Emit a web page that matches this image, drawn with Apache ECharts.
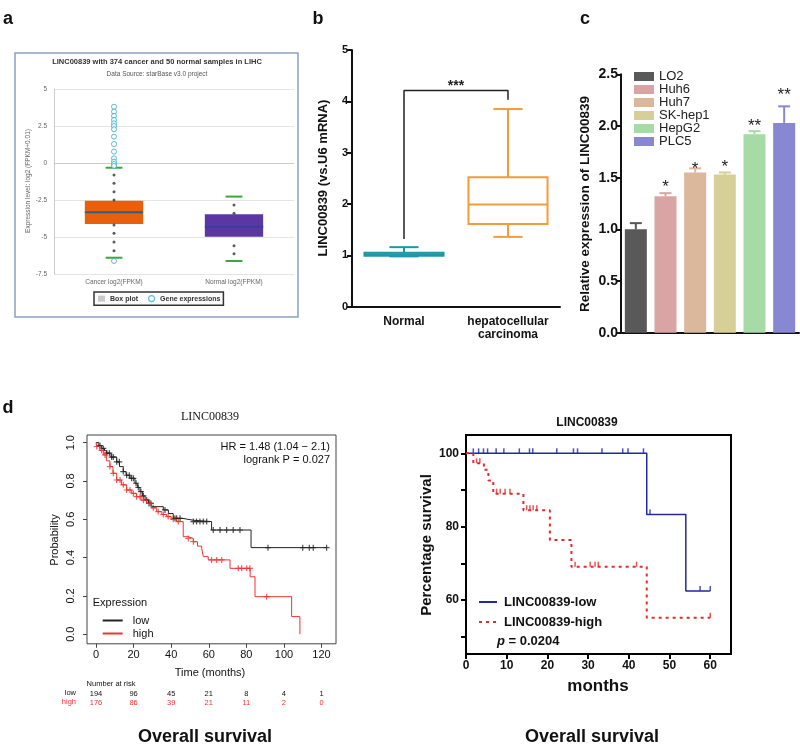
<!DOCTYPE html>
<html><head><meta charset="utf-8">
<script src="https://cdn.jsdelivr.net/npm/echarts@6/dist/echarts.min.js"></script>
<style>html,body{margin:0;padding:0;background:#fff}#c{width:800px;height:745px}</style>
</head><body><div id="c"></div>
<script>
// ---------- Panel a : starBase box plot ----------
const aCats = ['Cancer log2(FPKM)', 'Normal log2(FPKM)'];
const aLowWhisker = [-6.40, -6.62];
const aQ1 = [-4.12, -4.98];
const aMedian = [-3.33, -4.30];
const aQ3 = [-2.55, -3.47];
const aHighWhisker = [-0.32, -2.27];
const aDotsCancer = [-0.81, -1.37, -1.94, -2.50, -4.19, -4.75, -5.34, -5.93];
const aDotsNormal = [-2.84, -3.40, -5.59, -6.13];
const aExprCancer = [3.80, 3.47, 3.18, 2.91, 2.68, 2.50, 2.28, 1.78, 1.28, 0.77, 0.32, 0.09, -0.07, -0.20, -6.62];

// ---------- Panel b : qPCR box plot ----------
const bCats = ['Normal', 'hepatocellular\ncarcinoma'];
const bLow = [0.98, 1.36];
const bQ1 = [0.99, 1.61];
const bMedian = [1.02, 1.99];
const bQ3 = [1.05, 2.52];
const bHigh = [1.16, 3.85];
const bBracketLeft = 1.32, bBracketTop = 4.21, bBracketRight = 4.03, bSigY = 4.38;
const bSig = '***';

// ---------- Panel c : cell lines ----------
const cLines = ['LO2', 'Huh6', 'Huh7', 'SK-hep1', 'HepG2', 'PLC5'];
const cMean = [1.00, 1.32, 1.55, 1.53, 1.92, 2.03];
const cUpper = [1.06, 1.35, 1.59, 1.55, 1.95, 2.19];
const cSig = ['', '*', '*', '*', '**', '**'];
const cSigY = [0, 1.45, 1.62, 1.64, 2.04, 2.34];
const cColors = ['#595959', '#d9a4a4', '#dbb89c', '#d6cf98', '#a6dba6', '#8787d2'];

// ---------- Panel d left : KM plotter ----------
const dLowT = [0, 1.5, 3, 4.5, 5.7, 8, 11, 12.5, 14.5, 16, 18.1, 20.7, 22, 23.4, 24.8, 26.1, 28, 29.6, 35.8, 38.5, 41.1, 46, 51.8, 61.5, 82.5, 122.7];
const dLowP = [1, 0.985, 0.97, 0.958, 0.945, 0.925, 0.90, 0.875, 0.849, 0.83, 0.814, 0.788, 0.766, 0.744, 0.722, 0.701, 0.683, 0.666, 0.649, 0.63, 0.605, 0.595, 0.588, 0.544, 0.452, 0.452];
const dHighT = [0, 0.3, 2, 3.9, 5.5, 7.4, 9, 11, 13.5, 16.3, 19, 21.6, 24, 27, 29.5, 32.3, 35, 37.6, 40, 42.9, 46.4, 49, 51.8, 54, 56.2, 57.1, 59.7, 71.3, 82, 84.6, 104.1, 108.5];
const dHighP = [1, 0.98, 0.96, 0.936, 0.905, 0.875, 0.84, 0.805, 0.78, 0.753, 0.735, 0.718, 0.70, 0.684, 0.66, 0.64, 0.625, 0.614, 0.60, 0.588, 0.509, 0.50, 0.483, 0.46, 0.449, 0.405, 0.388, 0.344, 0.30, 0.196, 0.092, 0.0];
const dLowCensor = [2.1, 3.9, 5.7, 7.1, 8.3, 9.2, 11, 12.4, 14.5, 16.3, 17.7, 18.9, 19.9, 21.3, 22.5, 23.9, 25.2, 26.9, 28.2, 29.2, 36.7, 42, 42.9, 44.7, 51.8, 53.5, 55.3, 57.1, 58.9, 62.4, 66, 69.5, 73, 76.6, 91.5, 110, 113.5, 115.6, 122.7];
const dHighCensor = [0.4, 3.0, 4.8, 7.4, 9.2, 11, 12.8, 14.5, 16.3, 18.1, 19.9, 21.6, 23.4, 25.2, 26.9, 28.7, 30.5, 33.1, 35.8, 38.4, 41.1, 43.8, 49.1, 51.8, 61.5, 64.2, 66.9, 75.7, 77.5, 80.2, 81.9, 90.8];
const dTicksX = [0, 20, 40, 60, 80, 100, 120];
const dTicksY = [0, 0.2, 0.4, 0.6, 0.8, 1.0];
const dRiskLow = [194, 96, 45, 21, 8, 4, 1];
const dRiskHigh = [176, 86, 39, 21, 11, 2, 0];

// ---------- Panel d right : GraphPad KM ----------
const eLowT = [0, 44.4, 54.0, 60];
const eLowP = [100, 83.3, 62.5, 62.5];
const eHighT = [0, 1.8, 4.4, 5.5, 6.7, 14.1, 20.6, 25.9, 44.4, 60];
const eHighP = [100, 97.3, 95.5, 92.6, 89.0, 84.5, 76.4, 69.1, 55.2, 55.2];
const eLowCensor = [1.8, 3.1, 4.3, 5.3, 7.4, 9.3, 13.1, 15.6, 16.4, 22.3, 26.4, 27.4, 33.4, 38.5, 39.8, 43.6, 45.2, 57.5, 60];
const eHighCensor = [2.6, 3.4, 7.5, 8.4, 9.6, 10.8, 14.9, 15.7, 16.5, 17.4, 26.8, 30.5, 31.7, 32.5, 41.9, 60];
const eTicksX = [0, 10, 20, 30, 40, 50, 60];
const eTicksY = [50, 60, 70, 80, 90, 100];
const eLabelsY = [60, 80, 100];

// ---------- helpers ----------
const FONT = 'Liberation Sans';
function survAt(T, P, t) { let p = P[0]; for (let i = 0; i < T.length; i++) { if (T[i] <= t) p = P[i]; } return p; }
const plusPath = 'path://M4,0h2v4h4v2h-4v4h-2v-4h-4v-2h4z';
const aBoxFill = ['#e8600c', '#5a37a3'];
const aMedCol = ['#2f5f80', '#3c3c9c'];
const bCol = ['#2196a6', '#f59b3c'];

function renderA(params, api) {
  const i = api.value(0);
  const lo = api.coord([i, api.value(1)]), q1 = api.coord([i, api.value(2)]), md = api.coord([i, api.value(3)]);
  const q3 = api.coord([i, api.value(4)]), hi = api.coord([i, api.value(5)]);
  const band = api.size([1, 0])[0];
  const bw = band * 0.243, cw = band * 0.07, x = lo[0];
  return { type: 'group', children: [
    { type: 'rect', shape: { x: x - bw, y: q3[1], width: 2 * bw, height: q1[1] - q3[1] }, style: { fill: aBoxFill[i] } },
    { type: 'line', shape: { x1: x - bw, y1: md[1], x2: x + bw, y2: md[1] }, style: { stroke: aMedCol[i], lineWidth: 2 } },
    { type: 'line', shape: { x1: x - cw, y1: hi[1], x2: x + cw, y2: hi[1] }, style: { stroke: '#3aa83a', lineWidth: 2 } },
    { type: 'line', shape: { x1: x - cw, y1: lo[1], x2: x + cw, y2: lo[1] }, style: { stroke: '#3aa83a', lineWidth: 2 } }
  ] };
}
function renderB(params, api) {
  const i = api.value(0);
  const lo = api.coord([i, api.value(1)]), q1 = api.coord([i, api.value(2)]), md = api.coord([i, api.value(3)]);
  const q3 = api.coord([i, api.value(4)]), hi = api.coord([i, api.value(5)]);
  const band = api.size([1, 0])[0];
  const bw = band * 0.38, cw = band * 0.14, x = lo[0];
  const st = { stroke: bCol[i], lineWidth: 2, fill: null };
  return { type: 'group', children: [
    { type: 'line', shape: { x1: x, y1: hi[1], x2: x, y2: q3[1] }, style: st },
    { type: 'line', shape: { x1: x, y1: q1[1], x2: x, y2: lo[1] }, style: st },
    { type: 'line', shape: { x1: x - cw, y1: hi[1], x2: x + cw, y2: hi[1] }, style: st },
    { type: 'line', shape: { x1: x - cw, y1: lo[1], x2: x + cw, y2: lo[1] }, style: st },
    { type: 'rect', shape: { x: x - bw, y: q3[1], width: 2 * bw, height: q1[1] - q3[1] }, style: st },
    { type: 'line', shape: { x1: x - bw, y1: md[1], x2: x + bw, y2: md[1] }, style: st }
  ] };
}
function renderBSig(params, api) {
  const p0 = api.coord([0, api.value(0)]), p1 = api.coord([1, api.value(0)]);
  return { type: 'text', x: (p0[0] + p1[0]) / 2, y: p0[1] + 4, style: { text: bSig, fontSize: 14, fontWeight: 'bold', fontFamily: FONT, fill: '#222', align: 'center', verticalAlign: 'middle' } };
}
function renderErr(params, api) {
  const i = api.value(0);
  const p0 = api.coord([i, api.value(1)]), p1 = api.coord([i, api.value(2)]);
  const hw = 6, col = cColors[i];
  return { type: 'group', children: [
    { type: 'line', shape: { x1: p0[0], y1: p0[1], x2: p1[0], y2: p1[1] }, style: { stroke: col, lineWidth: 2 } },
    { type: 'line', shape: { x1: p1[0] - hw, y1: p1[1], x2: p1[0] + hw, y2: p1[1] }, style: { stroke: col, lineWidth: 2 } }
  ] };
}
function renderStar(params, api) {
  const i = api.value(0);
  const p = api.coord([i, api.value(1)]);
  return { type: 'text', x: p[0], y: p[1] + 4, style: { text: cSig[i], fontSize: 17, fontFamily: FONT, fill: '#222', align: 'center', verticalAlign: 'middle' } };
}
function renderRisk(params, api) {
  const p = api.coord([api.value(0), -0.05]);
  const s = { fontSize: 7.5, fontFamily: FONT, align: 'center', verticalAlign: 'middle' };
  return { type: 'group', children: [
    { type: 'text', x: p[0], y: p[1] + 50, style: Object.assign({ text: String(api.value(1)), fill: '#111' }, s) },
    { type: 'text', x: p[0], y: p[1] + 59, style: Object.assign({ text: String(api.value(2)), fill: '#e33' }, s) }
  ] };
}

function txt(text, x, y, o) {
  const e = { type: 'text', x: x, y: y, z: 10, style: Object.assign({ text: text, fill: '#111', fontFamily: FONT, fontSize: 12, align: 'center', verticalAlign: 'middle' }, o || {}) };
  if (o && o.rot) { e.rotation = Math.PI / 2; delete e.style.rot; }
  return e;
}

const cSeries = cLines.map((name, i) => ({
  type: 'bar', name: name, xAxisIndex: 2, yAxisIndex: 2, barWidth: 22, barGap: '-100%',
  itemStyle: { color: cColors[i] },
  data: cMean.map((v, j) => (j === i ? v : '-'))
}));

const option = {
  animation: false,
  textStyle: { fontFamily: FONT },
  grid: [
    { left: 54, top: 89, width: 240, height: 185 },
    { left: 352, top: 50, width: 208, height: 256.7 },
    { left: 621, top: 74.3, width: 178, height: 258.4 },
    { left: 87, top: 435, width: 249, height: 208.8, show: true, borderColor: '#444', borderWidth: 1 },
    { left: 466, top: 435, width: 265, height: 219, show: true, borderColor: '#000', borderWidth: 2 }
  ],
  xAxis: [
    { gridIndex: 0, type: 'category', data: aCats, axisLine: { lineStyle: { color: '#ccc' } }, axisTick: { show: false }, axisLabel: { fontSize: 6.5, color: '#666', margin: 5, interval: 0 } },
    { gridIndex: 1, type: 'category', data: bCats, axisLine: { lineStyle: { color: '#111', width: 2 } }, axisTick: { alignWithLabel: true, length: 5, lineStyle: { color: '#111', width: 2 } }, axisLabel: { interval: 0, fontSize: 12, fontWeight: 'bold', color: '#111', margin: 8, lineHeight: 13.5, verticalAlign: 'top' } },
    { gridIndex: 2, type: 'category', data: cLines, axisLine: { lineStyle: { color: '#111', width: 2 } }, axisTick: { show: false }, axisLabel: { show: false } },
    { gridIndex: 3, type: 'value', min: -4.8, max: 127.7, axisLine: { show: false, onZero: false }, splitLine: { show: false },
      axisTick: { show: true, length: 4, customValues: dTicksX, lineStyle: { color: '#444' } },
      axisLabel: { customValues: dTicksX, fontSize: 11, color: '#111', margin: 6 } },
    { gridIndex: 4, type: 'value', min: 0, max: 65.1, axisLine: { show: false, onZero: false }, splitLine: { show: false },
      axisTick: { show: true, length: 5, customValues: eTicksX, lineStyle: { color: '#000', width: 2 } },
      axisLabel: { customValues: eTicksX, fontSize: 12, fontWeight: 'bold', color: '#111', margin: 6 } }
  ],
  yAxis: [
    { gridIndex: 0, type: 'value', min: -7.5, max: 5, interval: 2.5, axisLine: { show: true, lineStyle: { color: '#ccc' } }, axisTick: { show: false }, axisLabel: { fontSize: 6.5, color: '#666', margin: 7 }, splitLine: { lineStyle: { color: '#e4e4e4' } } },
    { gridIndex: 1, type: 'value', min: 0, max: 5, interval: 1, axisLine: { show: true, lineStyle: { color: '#111', width: 2 } }, axisTick: { show: true, length: 5, lineStyle: { color: '#111', width: 2 } }, axisLabel: { fontSize: 11, fontWeight: 'bold', color: '#111', margin: 4 }, splitLine: { show: false } },
    { gridIndex: 2, type: 'value', min: 0, max: 2.5, interval: 0.5, axisLine: { show: true, lineStyle: { color: '#111', width: 2 } }, axisTick: { show: true, length: 5, lineStyle: { color: '#111', width: 2 } }, axisLabel: { fontSize: 14, fontWeight: 'bold', color: '#111', margin: 3, formatter: v => v.toFixed(1) }, splitLine: { show: false } },
    { gridIndex: 3, type: 'value', min: -0.05, max: 1.04, axisLine: { show: false, onZero: false }, splitLine: { show: false },
      axisTick: { show: true, length: 4, customValues: dTicksY, lineStyle: { color: '#444' } },
      axisLabel: { customValues: dTicksY, formatter: v => v.toFixed(1), fontSize: 11, color: '#111', rotate: 90, align: 'center', verticalAlign: 'bottom', margin: 11 } },
    { gridIndex: 4, type: 'value', min: 45.3, max: 105, axisLine: { show: false, onZero: false }, splitLine: { show: false },
      axisTick: { show: true, length: 5, customValues: eTicksY, lineStyle: { color: '#000', width: 2 } },
      axisLabel: { customValues: eLabelsY, fontSize: 12, fontWeight: 'bold', color: '#111', margin: 7 } }
  ],
  legend: [
    { left: 94, top: 292, selectedMode: false, itemWidth: 7, itemHeight: 6, itemGap: 10, padding: [3, 3, 3, 4], borderColor: '#333', borderWidth: 1.5, backgroundColor: '#fafafa',
      textStyle: { fontSize: 7, fontWeight: 'bold', color: '#333' },
      data: [{ name: 'Box plot', icon: 'rect', itemStyle: { color: '#c8c8c8' } },
             { name: 'Gene expressions', icon: 'circle', itemStyle: { color: '#fff', borderColor: '#3aa8c8', borderWidth: 1.2 } }] },
    { left: 629, top: 65, orient: 'vertical', selectedMode: false, itemWidth: 20, itemHeight: 9, itemGap: 0, icon: 'rect',
      textStyle: { fontSize: 13, color: '#222', lineHeight: 13 }, data: cLines },
    { left: 96.7, top: 610, orient: 'vertical', selectedMode: false, itemWidth: 20, itemHeight: 11, itemGap: 2, itemStyle: { opacity: 0 },
      textStyle: { fontSize: 11, color: '#111', padding: [0, 0, 0, 5] }, data: ['low', 'high'] },
    { left: 473, top: 590.5, orient: 'vertical', selectedMode: false, itemWidth: 18, itemHeight: 12, itemGap: 7, itemStyle: { opacity: 0 },
      textStyle: { fontSize: 13, fontWeight: 'bold', color: '#111', padding: [0, 0, 0, 2] }, data: ['LINC00839-low', 'LINC00839-high'] }
  ],
  series: [
    { type: 'custom', name: 'Box plot', xAxisIndex: 0, yAxisIndex: 0, itemStyle: { color: '#c8c8c8' }, renderItem: renderA, encode: { x: 0, y: [1, 2, 3, 4, 5] },
      data: aCats.map((c, i) => [i, aLowWhisker[i], aQ1[i], aMedian[i], aQ3[i], aHighWhisker[i]]) },
    { type: 'scatter', name: 'dots', xAxisIndex: 0, yAxisIndex: 0, symbolSize: 3, itemStyle: { color: '#333' }, z: 3,
      data: aDotsCancer.map(v => [0, v]).concat(aDotsNormal.map(v => [1, v])) },
    { type: 'scatter', name: 'Gene expressions', xAxisIndex: 0, yAxisIndex: 0, symbolSize: 5, z: 4,
      itemStyle: { color: '#fff', borderColor: '#3aa8c8', borderWidth: 1 }, data: aExprCancer.map(v => [0, v]) },

    { type: 'custom', name: 'b boxes', xAxisIndex: 1, yAxisIndex: 1, renderItem: renderB, encode: { x: 0, y: [1, 2, 3, 4, 5] },
      data: bCats.map((c, i) => [i, bLow[i], bQ1[i], bMedian[i], bQ3[i], bHigh[i]]) },
    { type: 'line', name: 'bracket', xAxisIndex: 1, yAxisIndex: 1, symbol: 'none', lineStyle: { color: '#222', width: 1.5 }, itemStyle: { color: '#222' },
      data: [[0, bBracketLeft], [0, bBracketTop], [1, bBracketTop], [1, bBracketRight]] },
    { type: 'custom', name: 'bsig', xAxisIndex: 1, yAxisIndex: 1, renderItem: renderBSig, data: [[bSigY]], encode: { y: 0 } },

    ...cSeries,
    { type: 'custom', name: 'c err', xAxisIndex: 2, yAxisIndex: 2, renderItem: renderErr, encode: { x: 0, y: [1, 2] }, z: 3,
      data: cLines.map((n, i) => [i, cMean[i], cUpper[i]]) },
    { type: 'custom', name: 'c sig', xAxisIndex: 2, yAxisIndex: 2, renderItem: renderStar, encode: { x: 0, y: 1 }, z: 4,
      data: cLines.map((n, i) => [i, cSigY[i]]).filter((d, i) => cSig[i] !== '') },

    { type: 'line', name: 'low', xAxisIndex: 3, yAxisIndex: 3, step: 'end', symbol: 'none', lineStyle: { color: '#222', width: 1 }, itemStyle: { color: '#222' },
      data: dLowT.map((t, i) => [t, dLowP[i]]) },
    { type: 'line', name: 'high', xAxisIndex: 3, yAxisIndex: 3, step: 'end', symbol: 'none', lineStyle: { color: '#ee3333', width: 1 }, itemStyle: { color: '#ee3333' },
      data: dHighT.map((t, i) => [t, dHighP[i]]) },
    { type: 'scatter', name: 'low censored', xAxisIndex: 3, yAxisIndex: 3, symbol: plusPath, symbolSize: 6, itemStyle: { color: '#222' },
      data: dLowCensor.map(t => [t, survAt(dLowT, dLowP, t)]) },
    { type: 'scatter', name: 'high censored', xAxisIndex: 3, yAxisIndex: 3, symbol: plusPath, symbolSize: 6, itemStyle: { color: '#ee3333' },
      data: dHighCensor.map(t => [t, survAt(dHighT, dHighP, t)]) },
    { type: 'custom', name: 'risk', xAxisIndex: 3, yAxisIndex: 3, renderItem: renderRisk, clip: false, encode: { x: 0 },
      data: dTicksX.map((t, i) => [t, dRiskLow[i], dRiskHigh[i]]) },

    { type: 'line', name: 'LINC00839-low', xAxisIndex: 4, yAxisIndex: 4, step: 'end', symbol: 'none', lineStyle: { color: '#23289e', width: 1.5 }, itemStyle: { color: '#23289e' },
      data: eLowT.map((t, i) => [t, eLowP[i]]) },
    { type: 'line', name: 'LINC00839-high', xAxisIndex: 4, yAxisIndex: 4, step: 'end', symbol: 'none', lineStyle: { color: '#e42a2a', width: 2, type: [3, 4] }, itemStyle: { color: '#e42a2a' },
      data: eHighT.map((t, i) => [t, eHighP[i]]) },
    { type: 'scatter', name: 'e low censored', xAxisIndex: 4, yAxisIndex: 4, symbol: 'rect', symbolSize: [1.5, 5], symbolOffset: [0, -2.5], itemStyle: { color: '#23289e' },
      data: eLowCensor.map(t => [t, survAt(eLowT, eLowP, t)]) },
    { type: 'scatter', name: 'e high censored', xAxisIndex: 4, yAxisIndex: 4, symbol: 'rect', symbolSize: [1.5, 5], symbolOffset: [0, -2.5], itemStyle: { color: '#e42a2a' },
      data: eHighCensor.map(t => [t, survAt(eHighT, eHighP, t)]) }
  ],
  graphic: [
    { type: 'rect', z: -1, shape: { x: 15, y: 53, width: 283, height: 264 }, style: { fill: '#fff', stroke: '#8ca1bf', lineWidth: 1.5 } },
    txt('a', 8, 19, { fontSize: 18, fontWeight: 'bold' }),
    txt('b', 318, 19, { fontSize: 18, fontWeight: 'bold' }),
    txt('c', 585, 19, { fontSize: 18, fontWeight: 'bold' }),
    txt('d', 8, 408, { fontSize: 18, fontWeight: 'bold' }),
    txt('LINC00839 with 374 cancer and 50 normal samples in LIHC', 157, 62, { fontSize: 7.5, fontWeight: 'bold', fill: '#333' }),
    txt('Data Source: starBase v3.0 project', 157, 74, { fontSize: 6.5, fill: '#555' }),
    txt('Expression level: log2 (FPKM+0.01)', 28, 181, { fontSize: 6.5, fill: '#666', rot: true }),
    txt('LINC00839 (vs.U6 mRNA)', 323, 178, { fontSize: 13, fontWeight: 'bold', rot: true }),
    txt('Relative expression of LINC00839', 585, 204, { fontSize: 13.5, fontWeight: 'bold', rot: true }),
    txt('LINC00839', 210, 417, { fontSize: 12, fontFamily: 'Liberation Serif' }),
    txt('HR = 1.48 (1.04 \u2212 2.1)', 330, 447, { fontSize: 11, align: 'right' }),
    txt('logrank P = 0.027', 330, 460, { fontSize: 11, align: 'right' }),
    txt('Probability', 55, 540, { fontSize: 11, rot: true }),
    txt('Time (months)', 210, 673, { fontSize: 11 }),
    txt('Expression', 92.7, 603, { fontSize: 11, align: 'left' }),
    txt('Number at risk', 111, 684, { fontSize: 7.5 }),
    txt('low', 76, 693, { fontSize: 7.5, align: 'right' }),
    txt('high', 76, 702, { fontSize: 7.5, align: 'right', fill: '#e33' }),
    txt('Overall survival', 205, 737, { fontSize: 18, fontWeight: 'bold' }),
    txt('LINC00839', 587, 423, { fontSize: 12, fontWeight: 'bold' }),
    txt('Percentage survival', 427, 545, { fontSize: 15, fontWeight: 'bold', rot: true }),
    txt('months', 598, 686, { fontSize: 17, fontWeight: 'bold' }),
    txt('{i|p} = 0.0204', 497, 641, { fontSize: 13, fontWeight: 'bold', align: 'left', rich: { i: { fontStyle: 'italic', fontWeight: 'bold', fontSize: 13, fontFamily: FONT } } }),
    txt('Overall survival', 592, 737, { fontSize: 18, fontWeight: 'bold' })
  ]
};

const chart = echarts.init(document.getElementById('c'), null, { renderer: 'canvas', width: 800, height: 745 });
chart.setOption(option);
</script>
</body></html>
